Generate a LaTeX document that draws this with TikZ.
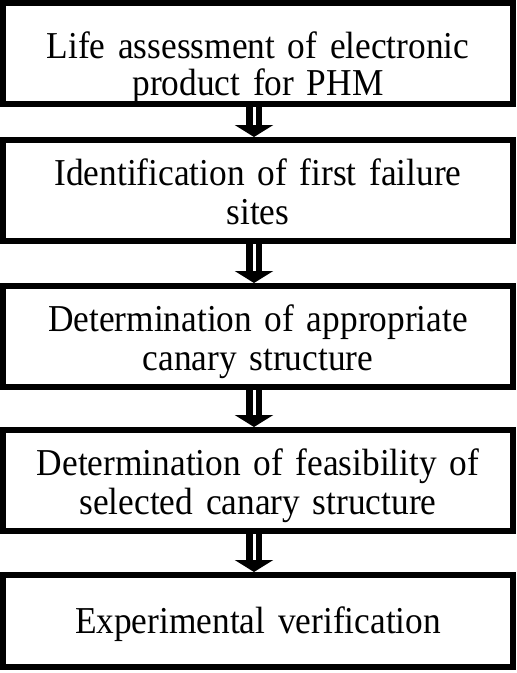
\documentclass[tikz,border=0pt]{standalone}
\usepackage{fontspec}
\setmainfont{Liberation Serif}[FakeStretch=0.93]
\usetikzlibrary{arrows.meta}

\newcommand{\boxfont}[1]{\fontsize{38}{#1}\selectfont\spaceskip=0.17em plus 0.1em minus 0.05em\relax}

\tikzset{
  flowbox/.style={draw, line width=6pt, minimum width=510pt, minimum height=101pt,
    text width=505pt, align=center, inner sep=0pt,
    font=\boxfont{39}, text height=0pt, text depth=10pt},
  dblarrow/.style={line width=6.5pt, double=white, double distance=3pt,
    -{Triangle[width=38pt,length=12pt]}},
}

\begin{document}
\begin{tikzpicture}[x=1pt,y=-1pt]
\useasboundingbox (0,0) rectangle (517,673);

% The steps of the flow
\node[flowbox, font=\boxfont{37}, text height=10pt, text depth=0pt] (b1) at (258,53.5)
  {Life assessment of electronic\\product for PHM};
\node[flowbox] (b2) at (258,190.5) {Identification of first failure\\sites};
\node[flowbox] (b3) at (258,336.5) {Determination of appropriate\\canary structure};
\node[flowbox] (b4) at (258,480.5) {Determination of feasibility of\\selected canary structure};
\node[flowbox, minimum height=92pt, text height=24pt, text depth=0pt] (b5) at (258,621)
  {Experimental verification};

% The arrows between them
\foreach \a/\b in {b1/b2,b2/b3,b3/b4,b4/b5}{
  \draw[dblarrow] ([xshift=-4pt]\a.south) -- ([xshift=-4pt]\b.north);
}

\end{tikzpicture}
\end{document}
